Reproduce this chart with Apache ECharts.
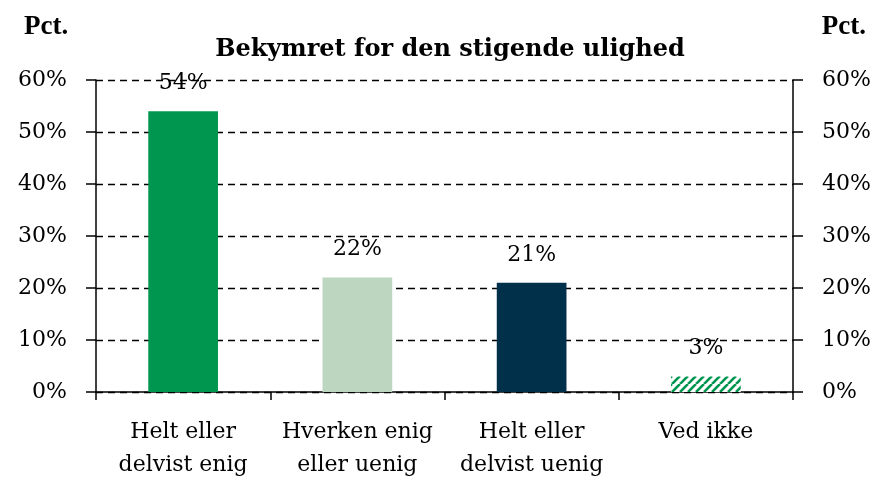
<!DOCTYPE html>
<html><head><meta charset="utf-8">
<script src="https://cdn.jsdelivr.net/npm/echarts@6/dist/echarts.min.js"></script>
<style>html,body{margin:0;padding:0;background:#fff}#c{width:876px;height:482px}</style>
</head><body><div id="c"></div>
<script>
const categories = ['Helt eller\ndelvist enig', 'Hverken enig\neller uenig', 'Helt eller\ndelvist uenig', 'Ved ikke'];
const values = [54, 22, 21, 3];
const yTicks = [0, 10, 20, 30, 40, 50, 60];
const barColors = ['#00964F', '#BDD6C0', '#00304A', 'hatch'];

function hatch() {
  const s = 8, c = document.createElement('canvas');
  c.width = s; c.height = s;
  const g = c.getContext('2d');
  g.fillStyle = '#fff'; g.fillRect(0, 0, s, s);
  g.strokeStyle = '#00964F'; g.lineWidth = 2.6;
  for (let k = -1; k <= 1; k++) {
    g.beginPath(); g.moveTo(k * s, s); g.lineTo(k * s + s, 0); g.stroke();
  }
  return { image: c, repeat: 'repeat' };
}
const font = 'DejaVu Serif';
const fs = 22;
const chart = echarts.init(document.getElementById('c'));
const yAxisBase = {
  type: 'value', min: yTicks[0], max: yTicks[yTicks.length - 1], interval: 10,
  axisLine: { show: true, lineStyle: { color: '#000', width: 1.5 } },
  axisTick: { show: true, length: 10, lineStyle: { color: '#000', width: 1.5 } },
  axisLabel: { formatter: v => v + '%', color: '#000', fontSize: fs, fontFamily: font, margin: 29 }
};
const pctStyle = { fontSize: 27, fontWeight: 'bold', fontFamily: 'Liberation Serif', color: '#000' };
chart.setOption({
  animation: false,
  textStyle: { fontFamily: font },
  title: [
    { text: 'Bekymret for den stigende ulighed', left: 445, top: 33, textAlign: 'center',
      textStyle: { fontSize: 24, fontWeight: 'bold', fontFamily: font, color: '#000' } },
    { text: 'Pct.', left: 19, top: 9, textStyle: pctStyle },
    { text: 'Pct.', right: 5, top: 9, textStyle: pctStyle }
  ],
  grid: { left: 96, right: 83, top: 80, bottom: 90 },
  xAxis: {
    type: 'category', data: categories,
    axisLine: { lineStyle: { color: '#000', width: 1.5 } },
    axisTick: { show: true, interval: 0, length: 8, lineStyle: { color: '#000', width: 1.5 } },
    axisLabel: { interval: 0, color: '#000', fontSize: fs, fontFamily: font, lineHeight: 33, margin: 24 }
  },
  yAxis: [
    Object.assign({}, yAxisBase, {
      position: 'left',
      splitLine: { show: true, lineStyle: { color: '#000', type: [7, 5], width: 1.3 } }
    }),
    Object.assign({}, yAxisBase, { position: 'right', splitLine: { show: false } })
  ],
  series: [{
    type: 'bar', barWidth: '40%',
    data: values.map((v, i) => ({
      value: v,
      itemStyle: { color: barColors[i] === 'hatch' ? hatch() : barColors[i] }
    })),
    label: { show: true, position: 'top', distance: 17, formatter: p => p.value + '%',
      color: '#000', fontSize: fs, fontFamily: font }
  }]
});
</script></body></html>
